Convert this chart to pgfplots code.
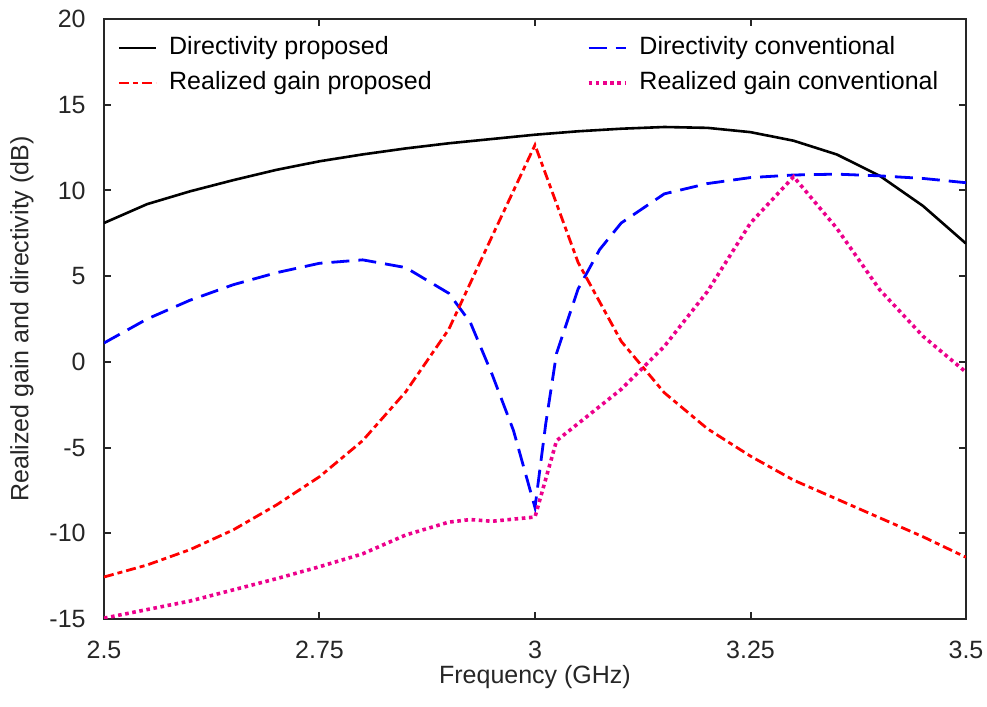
\documentclass[border=0pt]{standalone}
\usepackage{pgfplots}
\pgfplotsset{compat=1.18}
\usepackage{fontspec}
\setmainfont{Liberation Sans}
\definecolor{axgray}{RGB}{38,38,38}
\begin{document}
\fontsize{12.5}{15}\selectfont
\begin{tikzpicture}
\begin{axis}[
  name=ax,
  scale only axis,
  width=431pt, height=300pt,
  xmin=2.5, xmax=3.5, ymin=-15, ymax=20,
  xtick={2.5,2.75,3,3.25,3.5},
  xticklabels={2.5,2.75,3,3.25,3.5},
  ytick={-15,-10,-5,0,5,10,15,20},
  yticklabels={-15,-10,-5,0,5,10,15,20},
  tick align=inside,
  major tick length=3.5pt,
  minor tick num=0,
  axis line style={axgray, line width=1pt},
  every tick/.style={axgray, line width=1pt},
  tick label style={text=axgray, font=\fontsize{12.5}{15}\selectfont},
  xticklabel style={anchor=base, inner sep=0pt, yshift=-20pt},
  yticklabel style={anchor=east, inner sep=0pt, xshift=-9pt},
  xlabel={Frequency (GHz)},
  ylabel={Realized gain and directivity (dB)},
  label style={text=axgray, font=\fontsize{12.5}{15}\selectfont},
  xlabel style={at={(axis description cs:0.5,-0.0967)}, anchor=center},
  ylabel style={at={(axis description cs:-0.0951,0.5)}, anchor=center},
  legend columns=2,
  legend cell align=left,
  legend image code/.code={\draw[#1] (0pt,0pt) -- (18.5pt,0pt);},
  legend style={at={(axis description cs:0,1)}, anchor=north west,
    xshift=6.5pt, yshift=-8.5pt, draw=none, fill=none, inner sep=0pt,
    font=\fontsize{12.5}{15}\selectfont, row sep=6pt,
    nodes={inner sep=0pt, text height=9pt, text depth=2.5pt},
    /tikz/every odd column/.append style={column sep=6pt},
    /tikz/every even column/.append style={column sep=77.5pt}},
]
\addplot[black, line width=1.3pt] coordinates {
(2.50,8.1) (2.55,9.2) (2.60,9.95) (2.65,10.6) (2.70,11.2) (2.75,11.7)
(2.80,12.1) (2.85,12.45) (2.90,12.75) (2.95,13.0) (3.00,13.25) (3.05,13.45)
(3.10,13.6) (3.15,13.7) (3.20,13.65) (3.25,13.4) (3.30,12.9) (3.35,12.1)
(3.40,10.85) (3.45,9.1) (3.50,6.9)};
\addplot[blue, line width=1.4pt, dash pattern=on 9pt off 4.5pt] coordinates {
(2.50,1.1) (2.55,2.5) (2.60,3.6) (2.65,4.5) (2.70,5.2) (2.75,5.75)
(2.80,5.95) (2.85,5.5) (2.90,4.0) (2.925,2.3) (2.95,-0.7) (2.975,-4.0)
(3.00,-8.5) (3.0125,-3.6) (3.025,0.5) (3.05,4.25) (3.075,6.55) (3.10,8.1)
(3.15,9.8) (3.20,10.4) (3.25,10.75) (3.30,10.9) (3.35,10.95) (3.40,10.85)
(3.45,10.7) (3.50,10.45)};
\addplot[red, line width=1.4pt, dash pattern=on 5pt off 2pt on 2.5pt off 2pt] coordinates {
(2.50,-12.55) (2.55,-11.85) (2.60,-10.95) (2.65,-9.8) (2.70,-8.35) (2.75,-6.7)
(2.80,-4.6) (2.85,-1.75) (2.90,1.9) (2.95,7.3) (3.00,12.65) (3.05,5.8)
(3.10,1.2) (3.15,-1.8) (3.20,-3.9) (3.25,-5.5) (3.30,-6.9) (3.35,-8.0)
(3.40,-9.1) (3.45,-10.2) (3.50,-11.4)};
\addplot[magenta, line width=1.8pt, dash pattern=on 1.8pt off 1.8pt] coordinates {
(2.50,-14.95) (2.55,-14.45) (2.60,-13.95) (2.65,-13.3) (2.70,-12.65) (2.75,-11.95)
(2.80,-11.2) (2.85,-10.1) (2.90,-9.35) (2.925,-9.2) (2.95,-9.3) (3.00,-9.05)
(3.025,-4.6) (3.05,-3.6) (3.10,-1.6) (3.15,0.9) (3.20,4.1) (3.25,8.1)
(3.30,10.8) (3.35,7.8) (3.40,4.2) (3.45,1.5) (3.50,-0.6)};
\legend{Directivity proposed, Directivity conventional, Realized gain proposed, Realized gain conventional}
\end{axis}
\pgfresetboundingbox
\useasboundingbox ([xshift=-52pt,yshift=-44pt]ax.south west) rectangle ([xshift=10.5pt,yshift=9.5pt]ax.north east);
\end{tikzpicture}
\end{document}
